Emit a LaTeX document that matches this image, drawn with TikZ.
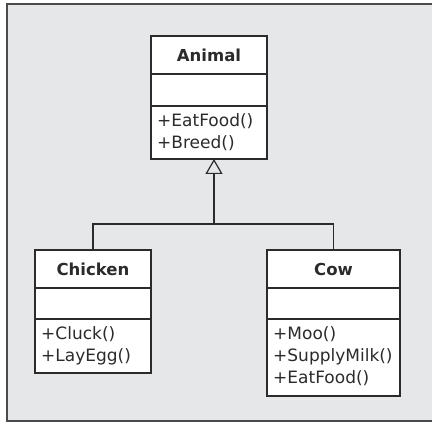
\documentclass[tikz,border=0pt]{standalone}
\usepackage{fontspec}
\setmainfont{DejaVu Sans}
\usetikzlibrary{arrows.meta}

\definecolor{panelbg}{HTML}{E6E7E8}
\definecolor{ink}{HTML}{2B2B2B}

\tikzset{
  classbox/.style={draw=ink, line width=1.2pt, fill=white, rectangle,
    anchor=north west, inner sep=0pt, outer sep=0pt},
  divider/.style={draw=ink, line width=1.2pt},
  classname/.style={font=\fontsize{16.5}{18}\selectfont\bfseries, text=ink, inner sep=0pt},
  op/.style={font=\fontsize{17}{20}\selectfont, text=ink, anchor=base west, inner sep=0pt},
  link/.style={draw=ink, line width=1.2pt},
  generalize/.style={link, -{Triangle[open, length=15pt, width=17pt, line width=1.2pt]}},
  frame/.style={draw=ink!85, line width=1.6pt}
}

\begin{document}
\begin{tikzpicture}[x=1pt, y=-1pt]
  \useasboundingbox (0,0) rectangle (432,422);
  \clip (0,0) rectangle (432,422);

  % panel
  \fill[panelbg] (7,4) rectangle (440,421);
  \draw[frame] (440,4) -- (7,4) -- (7,421) -- (440,421);

  % Animal
  \node[classbox, minimum width=116pt, minimum height=123pt] (animal) at (151,36) {};
  \draw[divider] (151,74) -- (267,74);
  \draw[divider] (151,106) -- (267,106);
  \node[classname] (animaltitle) at (209,55) {Animal};
  \node[op] (animalop1) at (157,127) {+EatFood()};
  \node[op] (animalop2) at (157,149) {+Breed()};

  % Chicken
  \node[classbox, minimum width=116pt, minimum height=123pt] (chicken) at (35,250) {};
  \draw[divider] (35,288) -- (151,288);
  \draw[divider] (35,319) -- (151,319);
  \node[classname] (chickentitle) at (93,269) {Chicken};
  \node[op] (chickenop1) at (41,340) {+Cluck()};
  \node[op] (chickenop2) at (41,362) {+LayEgg()};

  % Cow
  \node[classbox, minimum width=133pt, minimum height=146pt] (cow) at (267,250) {};
  \draw[divider] (267,288) -- (400,288);
  \draw[divider] (267,319) -- (400,319);
  \node[classname] (cowtitle) at (333.5,269) {Cow};
  \node[op] (cowop1) at (273,340) {+Moo()};
  \node[op] (cowop2) at (273,362) {+SupplyMilk()};
  \node[op] (cowop3) at (273,384) {+EatFood()};

  % generalization
  \coordinate (apex) at (214,159);
  \coordinate (joint) at (214,224);
  \draw[link] (chicken.north) |- (joint);
  \draw[link] (cow.north) |- (joint);
  \draw[generalize] (joint) -- (apex);
\end{tikzpicture}
\end{document}
